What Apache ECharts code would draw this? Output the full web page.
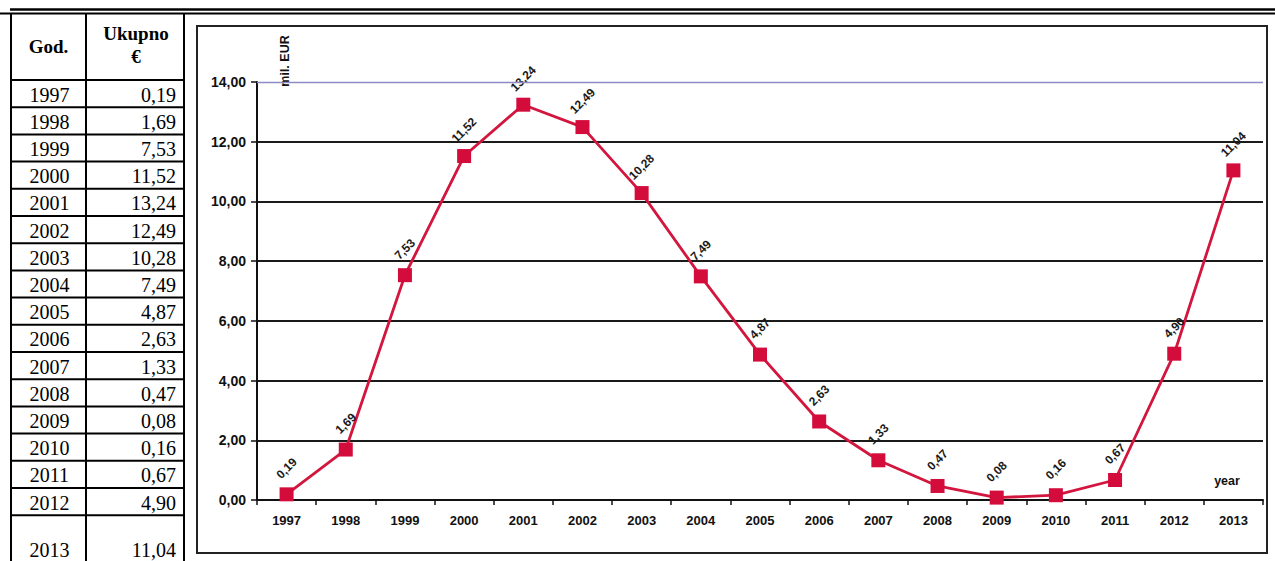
<!DOCTYPE html>
<html>
<head>
<meta charset="utf-8">
<script src="https://cdn.jsdelivr.net/npm/echarts@6/dist/echarts.min.js"></script>
<style>
html,body{margin:0;padding:0;background:#fff;}
#c{width:1275px;height:561px;}
</style>
</head>
<body>
<div id="c"></div>
<script>
// ---- data ----
const years = ['1997','1998','1999','2000','2001','2002','2003','2004','2005','2006','2007','2008','2009','2010','2011','2012','2013'];
const values = [0.19, 1.69, 7.53, 11.52, 13.24, 12.49, 10.28, 7.49, 4.87, 2.63, 1.33, 0.47, 0.08, 0.16, 0.67, 4.90, 11.04];
const tableHeader = ['God.', 'Ukupno', '€'];
const yUnit = 'mil. EUR';
const xUnit = 'year';
const yMin = 0, yMax = 14, yStep = 2;

const fmt = v => v.toFixed(2).replace('.', ',');

// ---- table + page decorations (graphic) ----
const g = [];
const serif = '"Liberation Serif","Times New Roman",serif';
const sans = '"Liberation Sans",Arial,sans-serif';
function hline(x1, x2, y, w) {
  g.push({type:'line', shape:{x1:x1, y1:y, x2:x2, y2:y}, style:{stroke:'#000', lineWidth:w}, silent:true});
}
function vline(x, y1, y2, w) {
  g.push({type:'line', shape:{x1:x, y1:y1, x2:x, y2:y2}, style:{stroke:'#000', lineWidth:w}, silent:true});
}
// double rule at top
hline(10, 1275, 9.5, 2.5);
hline(0, 1275, 13.5, 2);
// table frame
const tL = 11, tM = 86, tR = 184, tTop = 13, tBot = 561;
vline(tL, tTop, tBot, 2);
vline(tM, tTop, tBot, 2);
vline(tR, tTop, tBot, 2);
const headBottom = 80, rowH = 27.2;
hline(tL, tR, headBottom, 2);
g.push({type:'text', style:{text:tableHeader[0], x:(tL+tM)/2, y:46, align:'center', verticalAlign:'middle', font:'bold 19px ' + serif, fill:'#000'}});
g.push({type:'text', style:{text:tableHeader[1], x:(tM+tR)/2 + 1, y:33, align:'center', verticalAlign:'middle', font:'bold 19px ' + serif, fill:'#000'}});
g.push({type:'text', style:{text:tableHeader[2], x:(tM+tR)/2 + 1, y:56, align:'center', verticalAlign:'middle', font:'bold 19px ' + serif, fill:'#000'}});
for (let i = 0; i < years.length; i++) {
  const top = headBottom + i * rowH;
  const last = i === years.length - 1;
  const cy = last ? 550 : top + rowH / 2 + 1;
  if (!last) hline(tL, tR, top + rowH, 2);
  g.push({type:'text', style:{text:years[i], x:(tL+tM)/2 + 1, y:cy, align:'center', verticalAlign:'middle', font:'20px ' + serif, fill:'#000'}});
  g.push({type:'text', style:{text:fmt(values[i]), x:tR - 8, y:cy, align:'right', verticalAlign:'middle', font:'20px ' + serif, fill:'#000'}});
}
// chart frame
g.push({type:'rect', shape:{x:197, y:26, width:1070, height:527}, style:{stroke:'#222', lineWidth:2, fill:'none'}, silent:true, z:-1});
// axis unit labels
g.push({type:'text', rotation:Math.PI/2, x:285, y:61, style:{text:yUnit, x:0, y:0, align:'center', verticalAlign:'middle', font:'bold 12.5px ' + sans, fill:'#111'}});
g.push({type:'text', style:{text:xUnit, x:1227, y:481, align:'center', verticalAlign:'middle', font:'bold 12.5px ' + sans, fill:'#111'}});

const chart = echarts.init(document.getElementById('c'), null, {renderer:'svg'});
chart.setOption({
  animation: false,
  backgroundColor: '#fff',
  grid: {left: 257, right: 12, top: 82, bottom: 61, containLabel: false},
  graphic: g,
  xAxis: {
    type: 'category',
    data: years,
    boundaryGap: true,
    axisLine: {show: true, lineStyle: {color: '#111', width: 2}},
    axisTick: {show: true, length: 5, interval: 0, lineStyle: {color: '#111', width: 1.5}},
    axisLabel: {interval: 0, margin: 14, color: '#111', fontSize: 13, fontWeight: 'bold', fontFamily: sans},
    splitLine: {show: false}
  },
  yAxis: {
    type: 'value',
    min: yMin, max: yMax, interval: yStep,
    axisLine: {show: true, lineStyle: {color: '#111', width: 2}},
    axisTick: {show: true, length: 6, lineStyle: {color: '#111', width: 1.5}},
    axisLabel: {margin: 11, color: '#111', fontSize: 14, fontWeight: 'bold', fontFamily: sans, formatter: v => fmt(v)},
    splitLine: {show: true, showMinLine: false, showMaxLine: false, lineStyle: {color: '#1a1a1a', width: 1.8}}
  },
  series: [{
    type: 'line',
    data: values,
    symbol: 'rect',
    symbolSize: 14,
    lineStyle: {color: '#d3163e', width: 2.8},
    itemStyle: {color: '#d40c3c'},
    label: {
      show: true, position: 'top', distance: 19, rotate: 45,
      align: 'center', verticalAlign: 'middle',
      color: '#1a1a1a', fontSize: 12, fontWeight: 'bold', fontFamily: sans,
      formatter: p => fmt(p.value)
    },
    markLine: {
      silent: true, symbol: 'none', label: {show: false},
      lineStyle: {color: '#8c8cc8', width: 1.3, type: 'solid'},
      data: [{yAxis: yMax}]
    }
  }]
});
</script>
</body>
</html>
